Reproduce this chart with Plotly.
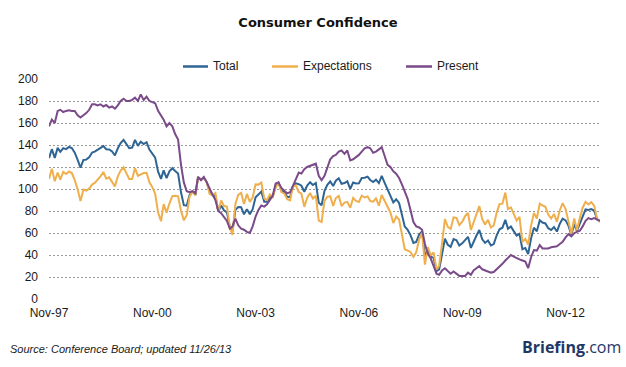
import pandas as pd
import plotly.graph_objects as go

start_month = "1997-11-01"
series_names = ["Total", "Expectations", "Present"]
series_colors = ["#2E6594", "#EFAF4D", "#7A4A89"]

total = [
    128.1, 136.2,
    128.3, 137.4, 133.8, 137.2, 136.3, 138.2, 137.2, 133.1, 126.4, 119.3, 126.4, 126.7,
    128.9, 133.1, 134.0, 135.5, 137.7, 139.0, 136.2, 136.0, 134.2, 130.5, 137.0, 141.7,
    144.7, 140.8, 137.1, 137.7, 144.7, 139.2, 143.0, 140.8, 142.5, 135.8, 132.6, 128.6,
    115.7, 109.2, 116.9, 109.9, 116.1, 118.9, 116.3, 114.0, 97.0, 85.3, 84.9, 94.6,
    97.8, 95.0, 110.7, 108.5, 110.3, 106.3, 97.4, 94.5, 93.7, 79.6, 84.9, 80.7,
    78.8, 64.8, 61.4, 81.0, 83.6, 83.5, 77.0, 81.7, 77.0, 81.7, 92.5, 94.8,
    97.7, 88.5, 88.5, 93.0, 93.1, 102.8, 105.7, 98.7, 96.7, 92.9, 92.6, 102.7,
    105.1, 104.4, 103.0, 97.5, 103.1, 106.2, 103.6, 105.5, 87.5, 85.2, 98.3, 103.8,
    106.8, 102.7, 107.5, 109.8, 104.7, 105.4, 107.0, 100.2, 105.9, 105.1, 105.3, 110.0,
    110.2, 111.2, 108.2, 106.3, 108.5, 105.3, 111.9, 105.6, 99.5, 95.2, 87.8, 90.6,
    87.3, 76.4, 65.9, 62.8, 58.1, 51.0, 51.9, 58.5, 61.4, 38.8, 44.7, 38.6,
    37.4, 25.3, 26.9, 40.8, 54.8, 49.3, 47.4, 54.5, 53.4, 48.7, 50.6, 53.6,
    56.5, 46.4, 52.3, 57.7, 62.7, 54.3, 51.0, 53.2, 48.6, 49.9, 57.8, 63.4,
    64.8, 72.0, 63.8, 66.0, 61.7, 57.6, 59.2, 45.2, 46.4, 40.9, 55.2, 64.8,
    61.5, 71.6, 69.5, 68.7, 64.4, 62.7, 65.4, 61.3, 68.4, 73.1, 71.5, 66.7,
    58.4, 68.0, 61.9, 69.0, 76.2, 81.4, 81.0, 81.8, 80.2, 72.4, 70.4,
]

expectations = [
    109.0, 118.5,
    107.0, 115.0, 108.5, 115.5, 113.6, 116.0, 114.5, 108.0, 99.5, 89.0, 99.4, 98.5,
    100.3, 104.0, 105.5, 108.5, 111.5, 115.5, 109.4, 110.6, 107.0, 102.4, 111.5, 116.7,
    119.7, 114.5, 109.0, 109.0, 119.0, 112.0, 113.6, 114.5, 114.8, 106.0, 101.7, 95.7,
    78.8, 70.7, 86.2, 78.5, 86.8, 93.5, 93.8, 93.3, 80.3, 71.5, 76.2, 93.0,
    97.7, 94.3, 110.5, 108.8, 109.8, 106.5, 95.7, 94.2, 96.2, 79.3, 89.5, 84.5,
    84.0, 65.3, 58.3, 86.3, 94.7, 96.5, 86.3, 95.5, 88.3, 92.2, 104.2, 104.0,
    106.0, 91.5, 90.0, 95.0, 92.5, 101.3, 105.5, 97.2, 95.8, 90.8, 89.7, 102.5,
    103.2, 97.3, 95.7, 83.8, 91.8, 96.3, 91.3, 93.8, 71.2, 70.0, 89.2, 93.0,
    93.3, 84.5, 91.8, 93.7, 84.5, 87.7, 88.3, 83.0, 91.8, 89.2, 88.2, 94.0,
    92.3, 93.3, 89.0, 88.5, 91.5, 84.8, 94.5, 89.3, 84.5, 78.7, 69.0, 75.0,
    72.2, 58.0, 45.2, 44.0, 42.8, 38.3, 42.5, 54.2, 60.3, 31.3, 47.2, 39.7,
    42.3, 26.8, 30.2, 50.7, 72.7, 65.5, 63.7, 74.2, 73.7, 67.2, 70.3, 75.3,
    78.2, 62.7, 69.8, 77.5, 84.5, 72.5, 67.7, 72.0, 65.0, 66.8, 78.3, 86.3,
    86.7, 96.7, 81.7, 83.3, 77.2, 71.3, 74.7, 52.0, 54.7, 49.5, 66.7, 78.3,
    73.2, 86.7, 85.2, 83.8, 76.7, 73.2, 77.3, 70.2, 80.7, 87.2, 81.8, 71.8,
    59.3, 73.3, 62.5, 73.7, 83.0, 88.3, 86.0, 88.0, 84.7, 72.7, 70.0,
]

present = [
    157, 163,
    160, 171, 172, 170, 171, 171.5, 171, 171, 167, 165, 167, 169,
    172, 177, 177, 176, 177, 175, 176.4, 174, 175, 173, 176, 180,
    182, 180, 180, 181, 183, 180, 186, 181, 184, 180, 179, 178,
    171, 167, 163, 157, 160, 157, 150, 145, 122, 106, 98, 97,
    98, 96, 111, 108, 111, 106, 100, 95, 90, 80, 78, 75,
    71, 64, 66, 73, 67, 64, 63, 61, 60, 66, 75, 81,
    85, 84, 86, 90, 94, 105, 106, 101, 98, 96, 97, 103,
    108, 115, 114, 118, 120, 121, 122, 123, 112, 108, 112, 120,
    127, 130, 131, 134, 135, 132, 135, 126, 127, 129, 131, 134,
    137, 138, 137, 133, 134, 136, 138, 130, 122, 120, 116, 114,
    110, 104, 97, 91, 81, 70, 66, 65, 63, 50, 41, 37,
    30, 23, 22, 26, 28, 25, 23, 25, 23, 21, 21, 21,
    24, 22, 26, 28, 30, 27, 26, 25, 24, 24.5, 27, 29,
    32, 35, 37, 40, 38.5, 37, 36, 35, 34, 28, 38, 44.5,
    44, 49, 46, 46, 46, 47, 47.5, 48, 50, 52, 56, 59,
    57, 60, 61, 62, 66, 71, 73.5, 72.5, 73.5, 72, 71,
]

y_ticks = [0, 20, 40, 60, 80, 100, 120, 140, 160, 180, 200]

months = pd.date_range(start_month, periods=len(total), freq="MS")
series_values = [total, expectations, present]

W, H = 626, 367
L, R, T, B = 49, 26, 79, 68
pw, ph = W - L - R, H - T - B


def px_x(p):
    return (p - L) / pw


def px_y(p):
    return (H - B - p) / ph


fig = go.Figure()
for name, vals, col in zip(series_names, series_values, series_colors):
    fig.add_trace(go.Scatter(x=months, y=vals, mode="lines", name=name,
                             line=dict(color=col, width=2), showlegend=False))

# legend drawn as swatches + text
leg_line = [(183, 208), (272, 298), (406, 432)]
leg_y = px_y(66.5)
for (a, b), name, col in zip(leg_line, series_names, series_colors):
    fig.add_shape(type="line", xref="paper", yref="paper", x0=px_x(a), x1=px_x(b),
                  y0=leg_y, y1=leg_y, line=dict(color=col, width=2.5))
    fig.add_annotation(xref="paper", yref="paper", x=px_x(b + 3), y=leg_y, text=name,
                       showarrow=False, xanchor="left", yanchor="middle",
                       font=dict(family="Liberation Sans", size=12, color="#1a1a1a"))

fig.add_annotation(xref="paper", yref="paper", x=px_x(8), y=px_y(349),
                   text="<i>Source: Conference Board; updated 11/26/13</i>", showarrow=False,
                   xanchor="left", yanchor="middle",
                   font=dict(family="Liberation Sans", size=11, color="#1a1a1a"))
fig.add_annotation(xref="paper", yref="paper", x=px_x(623), y=px_y(347),
                   text="<b>Briefing</b>.com", showarrow=False,
                   xanchor="right", yanchor="middle",
                   font=dict(family="Open Sans", size=16, color="#1E3766"))

fig.update_layout(
    width=W, height=H,
    margin=dict(l=L, r=R, t=T, b=B),
    paper_bgcolor="white", plot_bgcolor="white",
    title=dict(text="<b>Consumer Confidence</b>", x=318 / W, xanchor="center",
               y=1 - 22 / H, yanchor="middle",
               font=dict(family="DejaVu Sans", size=13, color="#111111")),
    font=dict(family="Liberation Sans", size=12, color="#1a1a1a"),
)
fig.update_xaxes(range=[months[0], months[-1]], tickformat="%b-%y", dtick="M36",
                 tick0=start_month, showgrid=False, zeroline=False, showline=False,
                 ticks="", ticklabelstandoff=5,
                 tickfont=dict(family="Liberation Sans", size=12, color="#1a1a1a"))
fig.update_yaxes(range=[0, 200], tickvals=y_ticks, showgrid=True, gridcolor="#9a9a9a",
                 griddash="2px,2px", gridwidth=1, zeroline=False, showline=False,
                 ticks="", ticklabelstandoff=10,
                 tickfont=dict(family="Liberation Sans", size=12, color="#1a1a1a"))

fig.write_html("out.html", config={"displayModeBar": False},
               post_script="document.body.style.margin='0';document.body.style.overflow='hidden';")
